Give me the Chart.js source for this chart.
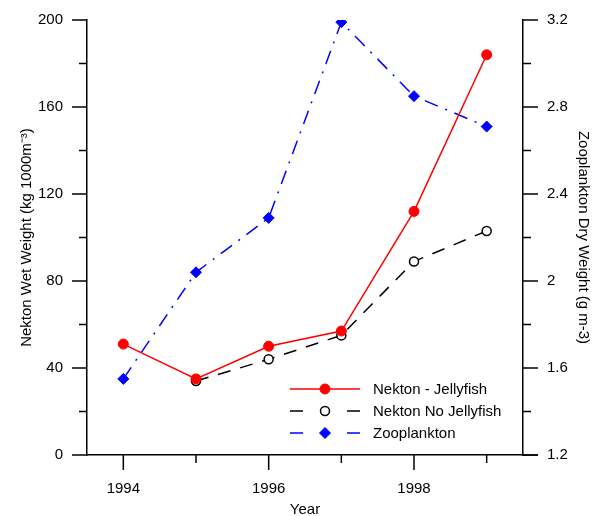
<!DOCTYPE html>
<html>
<head>
<meta charset="utf-8">
<script src="https://cdn.jsdelivr.net/npm/chart.js@4"></script>
<style>body{margin:0;background:#fff}</style>
</head>
<body>
<canvas id="chart" width="597" height="516"></canvas>
<script>
const years = [1994, 1995, 1996, 1997, 1998, 1999];
const nektonJelly = [51, 35, 50, 57, 112, 184];
const nektonNoJelly = [null, 34, 44, 55, 89, 103];
const zooplankton = [1.55, 2.04, 2.29, 3.19, 2.85, 2.71];

const leftTicks = [0, 20, 40, 60, 80, 100, 120, 140, 160, 180, 200];
const leftLabels = [0, 40, 80, 120, 160, 200];
const rightTicks = [1.2, 1.4, 1.6, 1.8, 2, 2.2, 2.4, 2.6, 2.8, 3, 3.2];
const rightLabels = [1.2, 1.6, 2, 2.4, 2.8, 3.2];
const yearLabels = [1994, 1996, 1998];

const font = { family: 'Liberation Sans, Arial, sans-serif', size: 15 };
const hasLabel = (list, v) => list.some(l => Math.abs(l - v) < 1e-6);

// major/minor tick marks drawn by hand (chart.js gives one length only)
const axisTicks = {
    id: 'axisTicks',
    afterDraw(chart) {
        const ctx = chart.ctx;
        const a = chart.chartArea;
        ctx.save();
        ctx.strokeStyle = '#000';
        ctx.lineWidth = 1.5;
        const line = (x1, y1, x2, y2) => {
            ctx.beginPath(); ctx.moveTo(x1, y1); ctx.lineTo(x2, y2); ctx.stroke();
        };
        const xs = chart.scales.x;
        xs.ticks.forEach(t => {
            const px = xs.getPixelForValue(t.value);
            line(px, a.bottom, px, a.bottom + (t.label ? 15 : 8));
        });
        line(a.right, a.bottom, a.right + 15, a.bottom);
        const yl = chart.scales.y;
        yl.ticks.forEach(t => {
            const py = yl.getPixelForValue(t.value);
            line(a.left, py, a.left - (t.label ? 15 : 8), py);
        });
        const yr = chart.scales.y2;
        yr.ticks.forEach(t => {
            const py = yr.getPixelForValue(t.value);
            line(a.right, py, a.right + (t.label ? 15 : 8), py);
        });
        ctx.restore();
    }
};

// legend with line + marker, inside the plot at lower right
const lineLegend = {
    id: 'lineLegend',
    afterDraw(chart) {
        const ctx = chart.ctx;
        const a = chart.chartArea;
        const x0 = a.right - 233;
        ctx.save();
        chart.data.datasets.forEach((ds, i) => {
            const y = a.bottom - 66 + i * 22;
            ctx.strokeStyle = ds.borderColor;
            ctx.lineWidth = ds.borderWidth;
            ctx.beginPath();
            if (ds.borderDash.length) {
                ctx.moveTo(x0, y); ctx.lineTo(x0 + 13, y);
                ctx.moveTo(x0 + 57, y); ctx.lineTo(x0 + 70, y);
            } else {
                ctx.moveTo(x0, y); ctx.lineTo(x0 + 70, y);
            }
            ctx.stroke();
            ctx.fillStyle = ds.pointBackgroundColor;
            ctx.strokeStyle = ds.pointBorderColor;
            ctx.lineWidth = ds.pointBorderWidth;
            Chart.helpers.drawPoint(ctx, {
                pointStyle: ds.pointStyle, radius: ds.pointRadius,
                rotation: 0, borderWidth: ds.pointBorderWidth
            }, x0 + 35, y);
            ctx.fillStyle = '#000';
            ctx.font = font.size + 'px ' + font.family;
            ctx.textBaseline = 'middle';
            ctx.fillText(ds.label, x0 + 83, y + 1);
        });
        ctx.restore();
    }
};

const xyData = vals => years.map((x, i) => ({ x: x, y: vals[i] }));

new Chart(document.getElementById('chart'), {
    type: 'line',
    data: {
        datasets: [
            {
                label: 'Nekton - Jellyfish',
                data: xyData(nektonJelly),
                yAxisID: 'y',
                borderColor: '#ff0000',
                borderWidth: 1.5,
                borderDash: [],
                pointStyle: 'circle',
                pointRadius: 5,
                pointBackgroundColor: '#ff0000',
                pointBorderColor: '#ff0000',
                pointBorderWidth: 1
            },
            {
                label: 'Nekton No Jellyfish',
                data: xyData(nektonNoJelly),
                yAxisID: 'y',
                borderColor: '#000000',
                borderWidth: 1.5,
                borderDash: [13, 10],
                pointStyle: 'circle',
                pointRadius: 4.5,
                pointBackgroundColor: '#ffffff',
                pointBorderColor: '#000000',
                pointBorderWidth: 1.5
            },
            {
                label: 'Zooplankton',
                data: xyData(zooplankton),
                yAxisID: 'y2',
                borderColor: '#0000ff',
                borderWidth: 1.5,
                borderDash: [14, 8, 2, 8],
                pointStyle: 'rectRot',
                pointRadius: 5.5,
                pointBackgroundColor: '#0000ff',
                pointBorderColor: '#0000ff',
                pointBorderWidth: 1
            }
        ]
    },
    options: {
        responsive: false,
        animation: false,
        spanGaps: false,
        layout: { padding: { top: 20, left: 0, right: 0, bottom: 0 } },
        plugins: { legend: { display: false }, tooltip: { enabled: false } },
        scales: {
            x: {
                type: 'linear',
                min: 1993.5,
                max: 1999.5,
                afterBuildTicks: s => { s.ticks = years.map(v => ({ value: v })); },
                afterFit: s => { s.height = 61; },
                ticks: {
                    callback: v => hasLabel(yearLabels, v) ? String(v) : '',
                    autoSkip: false, maxRotation: 0, padding: 10,
                    color: '#000', font: font
                },
                grid: { display: true, drawOnChartArea: false, tickLength: 15, tickColor: 'rgba(0,0,0,0)' },
                border: { color: '#000', width: 1.5 },
                title: {
                    display: true, text: 'Year', color: '#000',
                    font: { family: font.family, size: 15, lineHeight: 0.8 }, padding: 0
                }
            },
            y: {
                position: 'left',
                min: 0,
                max: 200,
                afterBuildTicks: s => { s.ticks = leftTicks.map(v => ({ value: v })); },
                afterFit: s => { s.width = 87; },
                ticks: {
                    callback: v => hasLabel(leftLabels, v) ? String(v) : '',
                    autoSkip: false, padding: 9,
                    color: '#000', font: font
                },
                grid: { display: true, drawOnChartArea: false, tickLength: 15, tickColor: 'rgba(0,0,0,0)' },
                border: { color: '#000', width: 1.5 },
                title: {
                    display: true, text: 'Nekton Wet Weight (kg 1000m\u207B\u00B3)',
                    color: '#000', font: font, padding: { top: 18, bottom: 0 }
                }
            },
            y2: {
                position: 'right',
                min: 1.2,
                max: 3.2,
                afterBuildTicks: s => { s.ticks = rightTicks.map(v => ({ value: v })); },
                afterFit: s => { s.width = 74; },
                ticks: {
                    callback: v => hasLabel(rightLabels, v) ? String(Math.round(v * 10) / 10) : '',
                    autoSkip: false, padding: 9,
                    color: '#000', font: font
                },
                grid: { display: true, drawOnChartArea: false, tickLength: 15, tickColor: 'rgba(0,0,0,0)' },
                border: { color: '#000', width: 1.5 },
                title: {
                    display: true, text: 'Zooplankton Dry Weight (g m-3)',
                    color: '#000', font: font, padding: { top: 5, bottom: 0 }
                }
            }
        }
    },
    plugins: [axisTicks, lineLegend]
});
</script>
</body>
</html>
